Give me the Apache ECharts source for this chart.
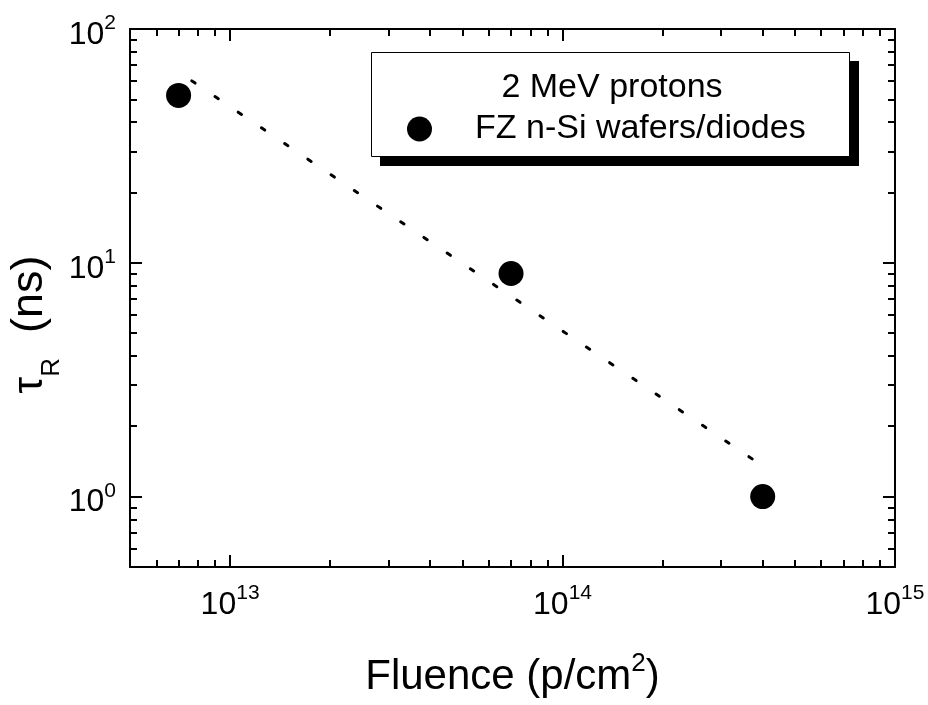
<!DOCTYPE html>
<html>
<head>
<meta charset="utf-8">
<script src="https://cdn.jsdelivr.net/npm/echarts@6/dist/echarts.min.js"></script>
<style>
  html, body { margin: 0; padding: 0; background: #fff; }
  #chart { width: 928px; height: 705px; }
</style>
</head>
<body>
<div id="chart"></div>
<script>
// Recovery time vs. proton fluence (log-log)
const fluence = [7e12, 7e13, 4e14];          // p/cm^2
const tauR = [52, 9, 1];                      // ns
const fitFluence = [7.67e12, 3.72e14];        // dotted trend line end points
const fitTau = [60, 1.45];

const xMajorTicks = [1e13, 1e14, 1e15];
const xMinorTicks = [6e12, 7e12, 8e12, 9e12,
  2e13, 3e13, 4e13, 5e13, 6e13, 7e13, 8e13, 9e13,
  2e14, 3e14, 4e14, 5e14, 6e14, 7e14, 8e14, 9e14];
const yMajorTicks = [1, 10, 100];
const yMinorTicks = [0.6, 0.7, 0.8, 0.9,
  2, 3, 4, 5, 6, 7, 8, 9,
  20, 30, 40, 50, 60, 70, 80, 90];

// a hair above 1e15 so the end tick survives floating-point rounding of log10
const xRange = [5e12, 1.000001e15];
const yRange = [0.5, 100];

const seriesName = 'FZ n-Si wafers/diodes';
const legendTitle = '2 MeV protons';

const FONT = '"Liberation Sans", Arial, Helvetica, sans-serif';

function powLabel(v) {
  const e = Math.round(Math.log10(v));
  return '{b|10}{s|' + e + '}';
}
const powRich = {
  b: { fontFamily: FONT, fontSize: 32, lineHeight: 44, color: '#000' },
  s: { fontFamily: FONT, fontSize: 21, lineHeight: 16, verticalAlign: 'top', color: '#000' }
};

function makeAxis(opts) {
  return Object.assign({
    type: 'log',
    logBase: 10,
    splitLine: { show: false },
    minorTick: { show: false },
    axisLine: { show: true, onZero: false, lineStyle: { color: '#000', width: 2 } },
    axisTick: { show: true, inside: true, length: 12, lineStyle: { color: '#000', width: 2 } },
    axisLabel: { show: false },
    silent: true
  }, opts);
}

const pointPairs = fluence.map((x, i) => [x, tauR[i]]);
const fitPairs = fitFluence.map((x, i) => [x, fitTau[i]]);

const chart = echarts.init(document.getElementById('chart'), null, { renderer: 'canvas' });

chart.setOption({
  animation: false,
  backgroundColor: '#fff',
  grid: { left: 130, right: 33, top: 29, bottom: 138, containLabel: false, outerBoundsMode: 'none' },
  xAxis: [
    makeAxis({
      position: 'bottom', min: xRange[0], max: xRange[1],
      axisTick: { show: true, inside: true, length: 12, customValues: xMajorTicks, lineStyle: { color: '#000', width: 2 } },
      axisLabel: { show: true, customValues: xMajorTicks, margin: 16, formatter: powLabel, rich: powRich, showMaxLabel: true, hideOverlap: false },
      name: 'Fluence (p/cm{s|2})',
      nameLocation: 'middle',
      nameGap: 84,
      nameMoveOverlap: false,
      nameTextStyle: {
        fontFamily: FONT, fontSize: 42, color: '#000', lineHeight: 52,
        rich: { s: { fontFamily: FONT, fontSize: 26, lineHeight: 20, verticalAlign: 'top', color: '#000' } }
      }
    }),
    makeAxis({
      position: 'bottom', min: xRange[0], max: xRange[1],
      axisLine: { show: false },
      axisTick: { show: true, inside: true, length: 7, customValues: xMinorTicks, lineStyle: { color: '#000', width: 2 } }
    }),
    makeAxis({
      position: 'top', min: xRange[0], max: xRange[1],
      axisTick: { show: true, inside: true, length: 12, customValues: xMajorTicks, lineStyle: { color: '#000', width: 2 } }
    }),
    makeAxis({
      position: 'top', min: xRange[0], max: xRange[1],
      axisLine: { show: false },
      axisTick: { show: true, inside: true, length: 7, customValues: xMinorTicks, lineStyle: { color: '#000', width: 2 } }
    })
  ],
  yAxis: [
    makeAxis({
      position: 'left', min: yRange[0], max: yRange[1],
      axisTick: { show: true, inside: true, length: 12, customValues: yMajorTicks, lineStyle: { color: '#000', width: 2 } },
      axisLabel: { show: true, customValues: yMajorTicks, margin: 14, formatter: powLabel, rich: powRich, padding: [12, 0, 0, 0], showMaxLabel: true, hideOverlap: false },
      name: '{t|τ}{r|R}{n|  (ns)}',
      nameLocation: 'middle',
      nameRotate: 90,
      nameGap: 65,
      nameMoveOverlap: false,
      nameTextStyle: {
        padding: [0, 53, 0, 0],
        rich: {
          t: { fontFamily: FONT, fontSize: 42, lineHeight: 70, color: '#000' },
          r: { fontFamily: FONT, fontSize: 26, lineHeight: 24, verticalAlign: 'bottom', color: '#000' },
          n: { fontFamily: FONT, fontSize: 45, lineHeight: 70, color: '#000' }
        }
      }
    }),
    makeAxis({
      position: 'left', min: yRange[0], max: yRange[1],
      axisLine: { show: false },
      axisTick: { show: true, inside: true, length: 7, customValues: yMinorTicks, lineStyle: { color: '#000', width: 2 } }
    }),
    makeAxis({
      position: 'right', min: yRange[0], max: yRange[1],
      axisTick: { show: true, inside: true, length: 12, customValues: yMajorTicks, lineStyle: { color: '#000', width: 2 } }
    }),
    makeAxis({
      position: 'right', min: yRange[0], max: yRange[1],
      axisLine: { show: false },
      axisTick: { show: true, inside: true, length: 7, customValues: yMinorTicks, lineStyle: { color: '#000', width: 2 } }
    })
  ],
  legend: {
    show: true,
    data: [seriesName],
    left: 407,
    top: 112,
    padding: 0,
    z: 10,
    icon: 'circle',
    itemWidth: 25,
    itemHeight: 25,
    itemStyle: { opacity: 1 },
    textStyle: { fontFamily: FONT, fontSize: 34, color: '#000', padding: [0, 0, 0, 38] },
    selectedMode: false
  },
  graphic: [
    { type: 'rect', z: 1, silent: true, shape: { x: 380, y: 61, width: 479, height: 105 }, style: { fill: '#000' } },
    { type: 'rect', z: 2, silent: true, shape: { x: 371.5, y: 52.5, width: 478, height: 104 }, style: { fill: '#fff', stroke: '#000', lineWidth: 1 } },
    { type: 'text', z: 3, silent: true, x: 612, y: 88, style: { text: legendTitle, font: '34px ' + FONT, fill: '#000', align: 'center', verticalAlign: 'middle' } }
  ],
  series: [
    {
      name: 'fit',
      type: 'line',
      xAxisIndex: 0, yAxisIndex: 0,
      data: fitPairs,
      showSymbol: false,
      symbol: 'none',
      lineStyle: { color: '#000', width: 3, type: [4, 24], cap: 'round' },
      z: 2,
      silent: true
    },
    {
      name: seriesName,
      type: 'scatter',
      xAxisIndex: 0, yAxisIndex: 0,
      data: pointPairs,
      symbol: 'circle',
      symbolSize: 25,
      itemStyle: { color: '#000', opacity: 1 },
      z: 3,
      silent: true
    }
  ]
});
</script>
</body>
</html>
